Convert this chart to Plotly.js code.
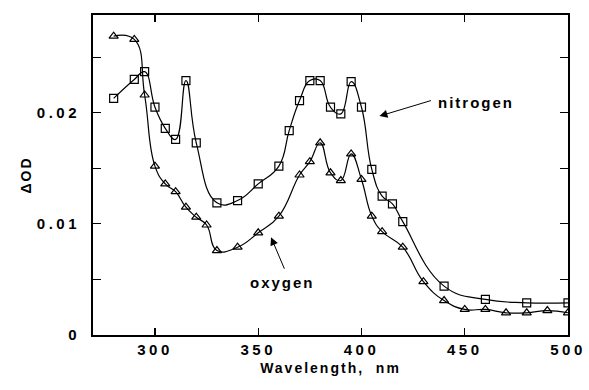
<!DOCTYPE html>
<html>
<head>
<meta charset="utf-8">
<script src="https://cdn.plot.ly/plotly-3.0.1.min.js"></script>
<style>
  html, body { margin: 0; padding: 0; background: #fff; }
  #chart { width: 589px; height: 390px; }
  #chart .xtick text, #chart .ytick text { letter-spacing: 3.5px; }
  #chart .xtitle, #chart .ytitle, #chart .annotation-text { letter-spacing: 2px; }
</style>
</head>
<body>
<div id="chart"></div>
<script>
// Transient absorbance change (ΔOD) versus wavelength under two atmospheres
const nitrogenWavelength = [280, 290, 295, 300, 305, 310, 315, 320, 330, 340, 350, 360, 365, 370,
                            375, 380, 385, 390, 395, 400, 405, 410, 415, 420, 440, 460, 480, 500];
const nitrogenOD = [0.0213, 0.0230, 0.0237, 0.0205, 0.0186, 0.0176, 0.0229, 0.0173, 0.0119, 0.0121,
                    0.0136, 0.0152, 0.0184, 0.0211, 0.0229, 0.0229, 0.0205, 0.0199, 0.0228, 0.0205,
                    0.0149, 0.0125, 0.0118, 0.0102, 0.0044, 0.0032, 0.0029, 0.0029];

const oxygenWavelength = [280, 290, 295, 300, 305, 310, 315, 320, 325, 330, 340, 350, 360, 370, 375,
                          380, 385, 390, 395, 400, 405, 410, 420, 430, 440, 450, 460, 470, 480, 490, 500];
const oxygenOD = [0.0269, 0.0266, 0.0216, 0.0152, 0.0136, 0.0129, 0.0115, 0.0106, 0.0099, 0.0076,
                  0.0079, 0.0092, 0.0107, 0.0144, 0.0156, 0.0173, 0.0146, 0.0139, 0.0163, 0.0140,
                  0.0107, 0.0093, 0.0079, 0.0048, 0.0031, 0.0023, 0.0023, 0.0020, 0.0020, 0.0022, 0.0020];

const xTickVals = [300, 350, 400, 450, 500];
const yTickVals = [0, 0.005, 0.01, 0.015, 0.02, 0.025];
const yTickText = ['0', '', '0.01', '', '0.02', ''];

const lineStyle = { color: '#000', width: 1.2, shape: 'spline', smoothing: 1.3 };

const traces = [
  {
    x: nitrogenWavelength, y: nitrogenOD, name: 'nitrogen',
    type: 'scatter', mode: 'lines+markers',
    line: lineStyle,
    marker: { symbol: 'square-open', size: 8, color: '#000', line: { width: 1.2 } }
  },
  {
    x: oxygenWavelength, y: oxygenOD, name: 'oxygen',
    type: 'scatter', mode: 'lines+markers',
    line: lineStyle,
    marker: { symbol: 'triangle-up-open', size: 8, color: '#000', line: { width: 1.2 } }
  }
];

const tickFont = { family: 'Liberation Sans, Arial, sans-serif', size: 15, color: '#000', weight: 'bold' };
const titleFont = { family: 'Liberation Sans, Arial, sans-serif', size: 14, color: '#000', weight: 'bold' };

const layout = {
  width: 589, height: 390,
  margin: { l: 93, r: 21, t: 15, b: 55 },
  paper_bgcolor: '#fff', plot_bgcolor: '#fff',
  showlegend: false,
  xaxis: {
    range: [270, 500],
    tickvals: xTickVals,
    ticks: 'inside', ticklen: 7, tickwidth: 1.2, tickcolor: '#000',
    showline: true, linewidth: 2, linecolor: '#000', mirror: 'ticks',
    showgrid: false, zeroline: false,
    tickfont: tickFont,
    title: { text: 'Wavelength,  nm', font: titleFont, standoff: 6 }
  },
  yaxis: {
    range: [0, 0.0288],
    tickvals: yTickVals, ticktext: yTickText,
    ticks: 'inside', ticklen: 8, tickwidth: 1.2, tickcolor: '#000',
    showline: true, linewidth: 2, linecolor: '#000', mirror: 'ticks',
    showgrid: false, zeroline: false,
    tickfont: tickFont,
    ticklabelstandoff: 8,
    title: { text: 'ΔOD', font: titleFont, standoff: 16 }
  },
  annotations: [
    {
      x: 408.7, y: 0.0197, xref: 'x', yref: 'y',
      ax: 53, ay: -16, showarrow: true,
      arrowhead: 2, arrowsize: 1.6, arrowwidth: 1, arrowcolor: '#000', text: ''
    },
    {
      x: 455.3, y: 0.0209, xref: 'x', yref: 'y', showarrow: false,
      text: 'nitrogen', font: { family: 'Liberation Sans, Arial, sans-serif', size: 15, color: '#000', weight: 'bold' }
    },
    {
      x: 356.2, y: 0.0088, xref: 'x', yref: 'y',
      ax: 14, ay: 33, showarrow: true,
      arrowhead: 2, arrowsize: 1.6, arrowwidth: 1, arrowcolor: '#000', text: ''
    },
    {
      x: 361.7, y: 0.0047, xref: 'x', yref: 'y', showarrow: false,
      text: 'oxygen', font: { family: 'Liberation Sans, Arial, sans-serif', size: 15, color: '#000', weight: 'bold' }
    }
  ]
};

Plotly.newPlot('chart', traces, layout, { staticPlot: true, displayModeBar: false });
</script>
</body>
</html>
